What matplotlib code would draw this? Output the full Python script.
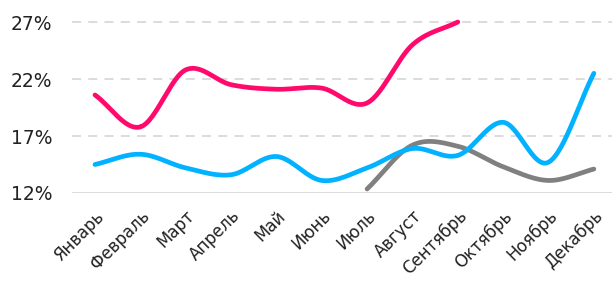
import numpy as np
import matplotlib.pyplot as plt

# Данные
months = ['Январь', 'Февраль', 'Март', 'Апрель', 'Май', 'Июнь',
          'Июль', 'Август', 'Сентябрь', 'Октябрь', 'Ноябрь', 'Декабрь']
pink = [20.6, 17.8, 22.8, 21.5, 21.1, 21.2, 19.9, 25.0, 27.0]
blue = [14.5, 15.4, 14.2, 13.6, 15.2, 13.1, 14.2, 15.9, 15.3, 18.2, 14.7, 22.5]
gray = [12.35, 16.2, 16.1, 14.3, 13.1, 14.1]
gray_start = 6
yticks = [12, 17, 22, 27]


def smooth(x, y, n=30):
    # сглаживание Catmull-Rom
    x = np.asarray(x, float)
    y = np.asarray(y, float)
    px = np.concatenate([[2 * x[0] - x[1]], x, [2 * x[-1] - x[-2]]])
    py = np.concatenate([[2 * y[0] - y[1]], y, [2 * y[-1] - y[-2]]])
    xs, ys = [], []
    t = np.linspace(0, 1, n)
    for i in range(1, len(px) - 2):
        p0, p1, p2, p3 = py[i - 1], py[i], py[i + 1], py[i + 2]
        q0, q1, q2, q3 = px[i - 1], px[i], px[i + 1], px[i + 2]
        f = lambda a, b, c, d: 0.5 * ((2 * b) + (-a + c) * t +
                                      (2 * a - 5 * b + 4 * c - d) * t ** 2 +
                                      (-a + 3 * b - 3 * c + d) * t ** 3)
        xs.append(f(q0, q1, q2, q3))
        ys.append(f(p0, p1, p2, p3))
    return np.concatenate(xs), np.concatenate(ys)


fig = plt.figure(figsize=(6.12, 2.81), dpi=100)
ax = fig.add_axes([72 / 612, (281 - 193) / 281, 1 - 72 / 612, (193 - 10.6) / 281])

for vals, start, color in [(gray, gray_start, '#808080'),
                           (blue, 0, '#00B2FF'),
                           (pink, 0, '#FF0A6C')]:
    xs, ys = smooth(np.arange(start, start + len(vals)), vals)
    ax.plot(xs, ys, color=color, lw=3.4, solid_capstyle='round', zorder=3)

# Сетка
for v in yticks[1:]:
    ax.axhline(v, color='#d9d9d9', lw=1.3, ls=(0, (5, 4)), zorder=1)
ax.axhline(12, color='#d9d9d9', lw=1.3, zorder=1)

ax.set_xlim(-0.507, 11.4)
ax.set_ylim(12, 28)
ax.set_yticks(yticks)
ax.set_yticklabels([f'{v}%' for v in yticks], fontsize=13.5, color='#222222')
ax.set_xticks(range(len(months)))
ax.set_xticklabels(months, rotation=45, ha='right', rotation_mode='anchor',
                   fontsize=12, color='#222222')
ax.tick_params(axis='both', length=0)
ax.tick_params(axis='y', pad=14)
ax.tick_params(axis='x', pad=10)
for s in ax.spines.values():
    s.set_visible(False)

fig.savefig('out.png', dpi=100)
